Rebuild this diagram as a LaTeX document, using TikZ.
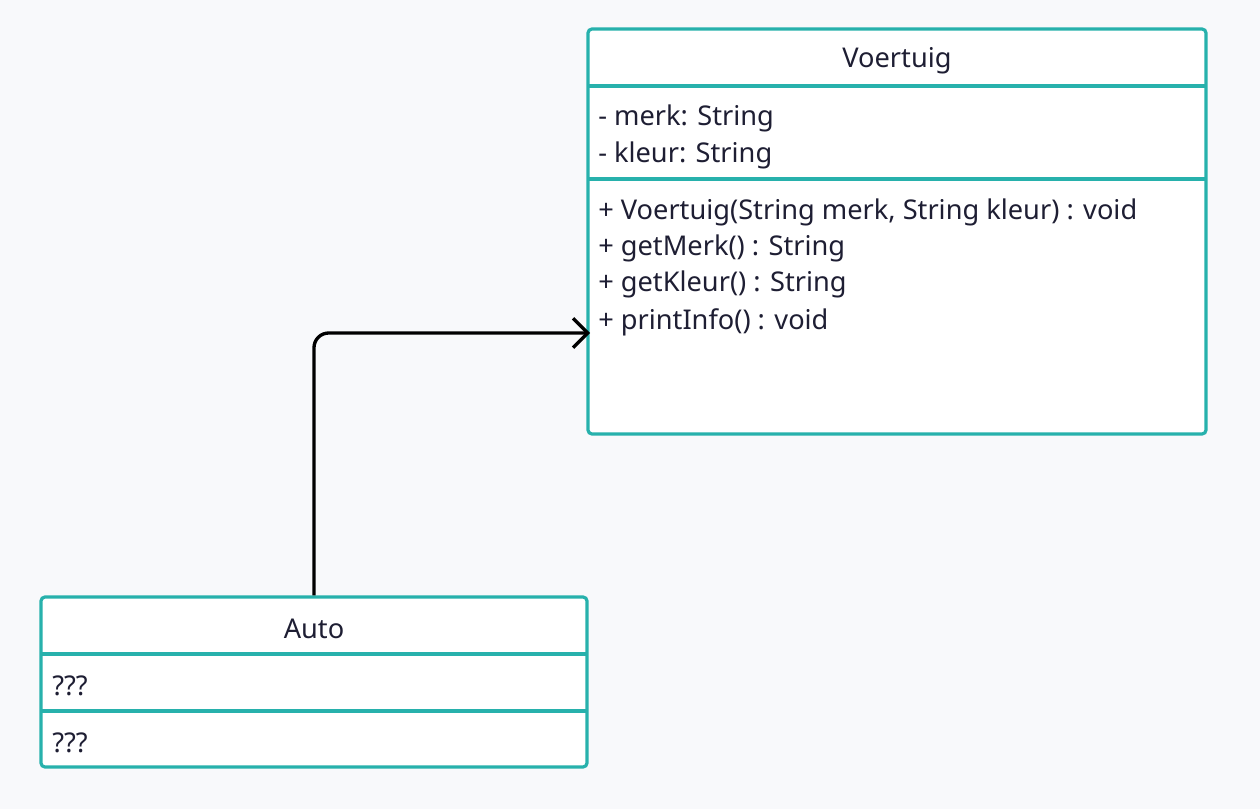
\documentclass[tikz,border=0pt]{standalone}
\usepackage{fontspec}
\setmainfont{Noto Sans}
\usetikzlibrary{arrows.meta}
\definecolor{teal2}{HTML}{27B1AC}
\definecolor{bgcol}{HTML}{F8F9FB}
\definecolor{inkcol}{HTML}{1E1E33}
\tikzset{
  umlbox/.style={draw=teal2, line width=2.4pt, fill=white, rounded corners=3pt, inner sep=0pt},
  divider/.style={draw=teal2, line width=2.4pt},
  umltext/.style={anchor=west, inner sep=0pt, text=inkcol, font=\fontsize{20.4}{24}\selectfont},
  umltitle/.style={inner sep=0pt, text=inkcol, font=\fontsize{20.4}{24}\selectfont},
  inherit/.style={line width=2.5pt, rounded corners=11pt, -{Straight Barb[length=11pt, width=22pt, line width=2.4pt]}},
}
\begin{document}
\begin{tikzpicture}[x=0.75pt, y=-0.75pt]
  \fill[bgcol] (0,0) rectangle (1260,809);
  \useasboundingbox (0,0) rectangle (1260,809);
  % Voertuig
  \node[umlbox, minimum width=463.5pt, minimum height=303.75pt] (voertuig) at (897,231.5) {};
  \draw[divider] (588,86) -- (1206,86);
  \draw[divider] (588,179) -- (1206,179);
  \node[umltitle] (vtitle) at (897,61) {Voertuig};
  \node[umltext] (attr1) at (598,118) {- merk: String};
  \node[umltext] (attr2) at (598,155) {- kleur: String};
  \node[umltext] (meth1) at (598,212) {+ Voertuig(String merk, String kleur) : void};
  \node[umltext] (meth2) at (598,248) {+ getMerk() : String};
  \node[umltext] (meth3) at (598,284) {+ getKleur() : String};
  \node[umltext] (meth4) at (598,322) {+ printInfo() : void};
  % Auto
  \node[umlbox, minimum width=409.5pt, minimum height=127.5pt] (auto) at (314,682) {};
  \draw[divider] (41,654) -- (587,654);
  \draw[divider] (41,711) -- (587,711);
  \node[umltitle] (atitle) at (314,629) {Auto};
  \node[umltext] (aattr) at (52,686) {???};
  \node[umltext] (ameth) at (52,743) {???};
  % overerving
  \coordinate (tip) at (590,333);
  \draw[inherit] (auto.north) |- (tip);
\end{tikzpicture}
\end{document}
